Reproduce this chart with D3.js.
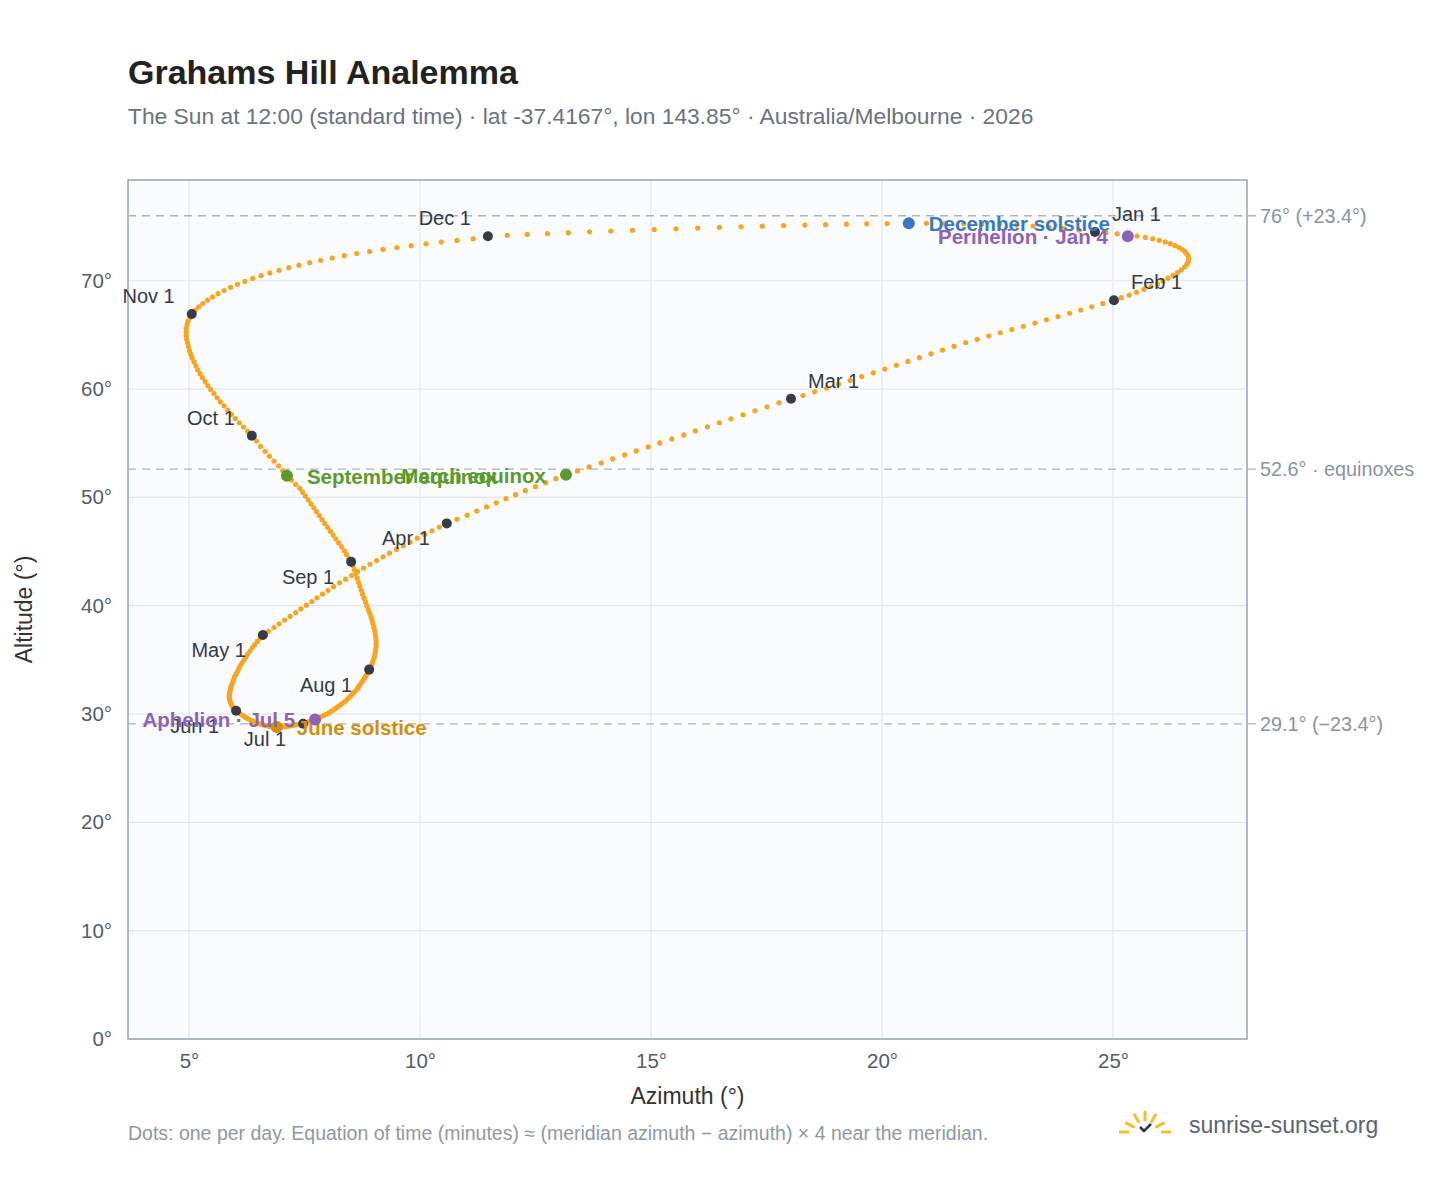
<!DOCTYPE html>
<html><head><meta charset="utf-8">
<script src="https://cdn.jsdelivr.net/npm/d3@7"></script>
<style>body{margin:0;background:#fff;font-family:"Liberation Sans",Arial,sans-serif}</style>
</head><body><div id="vis"></div>
<script>
// daily sun positions at 12:00 (Jan..Dec)
const azimuth = [
  // Jan
  24.61,24.85,25.09,25.32,25.52,25.70,25.86,26.00,26.13,26.24,26.34,26.43,26.50,26.56,26.60,26.63,26.64,26.63,26.60,26.55,26.48,26.40,26.30,26.19,26.08,25.96,25.82,25.67,25.51,25.35,25.18,
  // Feb
  25.02,24.78,24.54,24.30,24.06,23.81,23.56,23.31,23.06,22.81,22.56,22.31,22.06,21.81,21.56,21.31,21.06,20.81,20.56,20.31,20.06,19.81,19.56,19.31,19.06,18.80,18.54,18.29,
  // Mar
  18.03,17.77,17.51,17.25,16.99,16.73,16.48,16.22,15.96,15.71,15.45,15.19,14.94,14.68,14.43,14.17,13.92,13.66,13.41,13.16,12.94,12.72,12.50,12.28,12.07,11.86,11.65,11.44,11.23,11.02,10.80,
  // Apr
  10.58,10.42,10.26,10.10,9.94,9.79,9.64,9.49,9.34,9.20,9.06,8.92,8.78,8.65,8.52,8.39,8.26,8.13,8.01,7.89,7.77,7.66,7.54,7.42,7.31,7.19,7.07,6.95,6.84,6.72,
  // May
  6.60,6.54,6.48,6.42,6.37,6.32,6.27,6.23,6.19,6.15,6.11,6.08,6.05,6.02,5.99,5.97,5.95,5.93,5.91,5.90,5.89,5.88,5.87,5.87,5.88,5.89,5.90,5.92,5.94,5.96,5.99,
  // Jun
  6.02,6.06,6.10,6.14,6.18,6.22,6.26,6.30,6.34,6.38,6.42,6.46,6.51,6.56,6.61,6.66,6.71,6.76,6.81,6.86,6.90,6.95,7.00,7.06,7.12,7.18,7.24,7.30,7.36,7.42,
  // Jul
  7.47,7.54,7.60,7.67,7.73,7.79,7.85,7.91,7.97,8.03,8.08,8.13,8.18,8.23,8.28,8.33,8.38,8.42,8.46,8.50,8.54,8.58,8.62,8.65,8.68,8.71,8.74,8.77,8.80,8.83,8.86,
  // Aug
  8.90,8.93,8.96,8.98,9.00,9.02,9.03,9.04,9.05,9.05,9.05,9.04,9.03,9.02,9.00,8.98,8.96,8.94,8.91,8.88,8.85,8.82,8.79,8.76,8.73,8.70,8.67,8.64,8.61,8.58,8.55,
  // Sep
  8.51,8.46,8.41,8.36,8.30,8.24,8.18,8.12,8.06,8.00,7.94,7.88,7.82,7.76,7.70,7.64,7.58,7.52,7.46,7.40,7.31,7.22,7.12,7.03,6.94,6.84,6.74,6.65,6.55,6.46,
  // Oct
  6.36,6.27,6.18,6.09,6.00,5.92,5.84,5.76,5.68,5.61,5.54,5.47,5.41,5.35,5.29,5.24,5.19,5.15,5.11,5.07,5.04,5.01,4.99,4.97,4.95,4.94,4.94,4.94,4.96,4.98,5.02,
  // Nov
  5.06,5.13,5.21,5.30,5.40,5.51,5.63,5.76,5.90,6.05,6.21,6.38,6.56,6.75,6.95,7.16,7.38,7.61,7.85,8.10,8.36,8.63,8.91,9.20,9.50,9.81,10.13,10.46,10.80,11.15,
  // Dec
  11.47,11.89,12.32,12.76,13.21,13.67,14.13,14.60,15.07,15.54,16.01,16.48,16.95,17.41,17.87,18.33,18.78,19.23,19.67,20.11,20.58,20.96,21.37,21.77,22.16,22.54,22.91,23.27,23.61,23.94,24.26
];
const altitude = [
  // Jan
  74.50,74.42,74.33,74.10,74.12,74.00,73.87,73.73,73.58,73.42,73.25,73.07,72.88,72.68,72.47,72.25,72.02,71.78,71.53,71.27,71.00,70.75,70.50,70.24,69.98,69.72,69.46,69.20,68.94,68.68,68.44,
  // Feb
  68.20,67.90,67.60,67.30,67.00,66.70,66.40,66.10,65.80,65.50,65.20,64.90,64.60,64.30,63.95,63.60,63.25,62.90,62.55,62.20,61.85,61.50,61.15,60.80,60.45,60.10,59.75,59.40,
  // Mar
  59.10,58.73,58.36,57.99,57.62,57.25,56.88,56.51,56.14,55.77,55.40,55.03,54.66,54.29,53.92,53.55,53.18,52.81,52.44,52.10,51.73,51.36,50.99,50.62,50.25,49.88,49.50,49.12,48.74,48.36,47.98,
  // Apr
  47.60,47.26,46.91,46.57,46.23,45.88,45.54,45.20,44.85,44.51,44.17,43.82,43.48,43.14,42.79,42.45,42.11,41.76,41.42,41.08,40.73,40.39,40.05,39.70,39.36,39.02,38.67,38.33,37.99,37.64,
  // May
  37.30,37.00,36.70,36.40,36.11,35.82,35.54,35.26,34.99,34.72,34.46,34.20,33.95,33.70,33.46,33.22,32.99,32.77,32.55,32.34,32.13,31.93,31.73,31.54,31.36,31.18,31.01,30.85,30.69,30.54,30.40,
  // Jun
  30.30,30.17,30.05,29.93,29.82,29.71,29.61,29.51,29.42,29.34,29.26,29.19,29.12,29.06,29.00,28.95,28.90,28.86,28.83,28.81,28.80,28.80,28.81,28.83,28.86,28.90,28.94,28.99,29.04,29.08,
  // Jul
  29.10,29.20,29.30,29.40,29.50,29.61,29.73,29.85,29.98,30.11,30.25,30.39,30.54,30.69,30.85,31.01,31.17,31.34,31.51,31.68,31.85,32.03,32.21,32.39,32.57,32.76,32.95,33.14,33.33,33.52,33.75,
  // Aug
  34.10,34.35,34.60,34.86,35.12,35.39,35.66,35.94,36.22,36.51,36.80,37.10,37.40,37.71,38.02,38.34,38.66,38.99,39.32,39.66,40.00,40.35,40.70,41.06,41.42,41.79,42.16,42.54,42.92,43.31,43.70,
  // Sep
  44.05,44.36,44.72,45.08,45.44,45.80,46.16,46.52,46.88,47.24,47.60,47.96,48.32,48.68,49.04,49.40,49.76,50.12,50.48,50.84,51.20,51.60,52.00,52.45,52.90,53.35,53.80,54.25,54.70,55.20,
  // Oct
  55.70,56.10,56.50,56.89,57.28,57.67,58.06,58.44,58.82,59.20,59.58,59.95,60.32,60.69,61.06,61.42,61.78,62.14,62.50,62.85,63.20,63.55,63.90,64.25,64.59,64.93,65.27,65.61,65.94,66.27,66.60,
  // Nov
  66.93,67.26,67.58,67.90,68.21,68.51,68.81,69.10,69.39,69.67,69.94,70.21,70.47,70.72,70.97,71.21,71.44,71.67,71.89,72.10,72.31,72.51,72.70,72.89,73.07,73.24,73.41,73.57,73.72,73.87,
  // Dec
  74.10,74.19,74.28,74.36,74.44,74.52,74.59,74.66,74.73,74.80,74.86,74.92,74.98,75.04,75.09,75.14,75.18,75.22,75.25,75.28,75.30,75.30,75.29,75.27,75.24,75.20,75.14,75.05,74.95,74.84,74.68
];

const monthLabels = ["Jan 1","Feb 1","Mar 1","Apr 1","May 1","Jun 1","Jul 1","Aug 1","Sep 1","Oct 1","Nov 1","Dec 1"];
const monthStartDay = [0,31,59,90,120,151,181,212,243,273,304,334];
const monthLabelSide = ["ra","ra","ra","lb","lb","lb","lb","lb","lb","la","la","la"];

const eventNames = ["December solstice","Perihelion · Jan 4","March equinox","September equinox","June solstice","Aphelion · Jul 5"];
const eventDay = [354,3,78,265,171,185];
const eventColors = ["#3b78c3","#8e62b4","#5b9a2f","#5b9a2f","#d38f0c","#8e62b4"];
const eventSide = ["r","l","l","r","r","l"];

const refLines = [76, 52.6, 29.1];
const refLabels = ["76° (+23.4°)", "52.6° · equinoxes", "29.1° (−23.4°)"];

const xTicks = [5,10,15,20,25];
const yTicks = [0,10,20,30,40,50,60,70];

const days = azimuth.map((az, i) => ({ az, alt: altitude[i] }));

const W = 1448, H = 1188;
const plot = { left: 128, top: 180, right: 1247, bottom: 1039 };

const svg = d3.select("#vis").append("svg").attr("width", W).attr("height", H);

const x = d3.scaleLinear().domain([3.68, 27.9]).range([plot.left, plot.right]);
const y = d3.scaleLinear().domain([0, 79.3]).range([plot.bottom, plot.top]);

svg.append("text").attr("x", 128).attr("y", 84).attr("font-size", 34).attr("font-weight", "bold")
    .attr("fill", "#222").text("Grahams Hill Analemma");
svg.append("text").attr("x", 128).attr("y", 124).attr("font-size", 22.8).attr("fill", "#6b7280")
    .text("The Sun at 12:00 (standard time) · lat -37.4167°, lon 143.85° · Australia/Melbourne · 2026");

svg.append("rect").attr("x", plot.left).attr("y", plot.top)
    .attr("width", plot.right - plot.left).attr("height", plot.bottom - plot.top)
    .attr("fill", "#f9fbfd");

const grid = svg.append("g");
xTicks.forEach(t => grid.append("line").attr("x1", x(t)).attr("x2", x(t))
    .attr("y1", plot.top).attr("y2", plot.bottom).attr("stroke", "#e3e8ee").attr("stroke-width", 1.2));
yTicks.forEach(t => grid.append("line").attr("y1", y(t)).attr("y2", y(t))
    .attr("x1", plot.left).attr("x2", plot.right).attr("stroke", "#e3e8ee").attr("stroke-width", 1.2));

refLines.forEach((v, i) => {
    svg.append("line").attr("x1", plot.left).attr("x2", plot.right + 10)
        .attr("y1", y(v)).attr("y2", y(v)).attr("stroke", "#aab4c0")
        .attr("stroke-width", 1.3).attr("stroke-dasharray", "8,6");
    svg.append("text").attr("x", 1260).attr("y", y(v) + 7).attr("font-size", 19.8)
        .attr("fill", "#8a939e").text(refLabels[i]);
});

svg.append("rect").attr("x", plot.left).attr("y", plot.top)
    .attr("width", plot.right - plot.left).attr("height", plot.bottom - plot.top)
    .attr("fill", "none").attr("stroke", "#98a3b0").attr("stroke-width", 1.5);

const xAxis = svg.append("g").attr("transform", `translate(0,${plot.bottom})`)
    .call(d3.axisBottom(x).tickValues(xTicks).tickSize(0).tickPadding(14).tickFormat(d => d + "°"));
const yAxis = svg.append("g").attr("transform", `translate(${plot.left},0)`)
    .call(d3.axisLeft(y).tickValues(yTicks).tickSize(0).tickPadding(16).tickFormat(d => d + "°"));
[xAxis, yAxis].forEach(a => {
    a.select(".domain").remove();
    a.selectAll("text").attr("font-size", 20.5).attr("fill", "#555d66").attr("font-family", "Liberation Sans, Arial, sans-serif");
});

svg.append("text").attr("x", (plot.left + plot.right) / 2).attr("y", 1104).attr("text-anchor", "middle")
    .attr("font-size", 23).attr("fill", "#333").text("Azimuth (°)");
svg.append("text").attr("transform", `translate(32,${(plot.top + plot.bottom) / 2}) rotate(-90)`)
    .attr("text-anchor", "middle").attr("font-size", 23).attr("fill", "#333").text("Altitude (°)");

svg.append("g").selectAll("circle").data(days).join("circle")
    .attr("cx", d => x(d.az)).attr("cy", d => y(d.alt)).attr("r", 2.6).attr("fill", "#f5a623");

monthStartDay.forEach((d, i) => {
    const p = days[d];
    svg.append("circle").attr("cx", x(p.az)).attr("cy", y(p.alt)).attr("r", 5).attr("fill", "#363c45");
    const s = monthLabelSide[i];
    const dx = s[0] === "r" ? 17 : -17;
    const dy = s[1] === "a" ? -11 : 22;
    svg.append("text").attr("x", x(p.az) + dx).attr("y", y(p.alt) + dy)
        .attr("text-anchor", s[0] === "r" ? "start" : "end")
        .attr("font-size", 20).attr("fill", "#333a44").text(monthLabels[i]);
});

eventDay.forEach((d, i) => {
    const p = days[d];
    svg.append("circle").attr("cx", x(p.az)).attr("cy", y(p.alt)).attr("r", 6).attr("fill", eventColors[i]);
    const right = eventSide[i] === "r";
    svg.append("text").attr("x", x(p.az) + (right ? 20 : -20)).attr("y", y(p.alt) + 8)
        .attr("text-anchor", right ? "start" : "end").attr("font-size", 20.5).attr("font-weight", "bold")
        .attr("fill", eventColors[i]).text(eventNames[i]);
});

svg.append("text").attr("x", 128).attr("y", 1140).attr("font-size", 19.5).attr("fill", "#9098a3")
    .text("Dots: one per day. Equation of time (minutes) ≈ (meridian azimuth − azimuth) × 4 near the meridian.");

// logo
const logo = svg.append("g").attr("transform", "translate(1145,1133)");
[-62, -30, 0, 30, 62].forEach(a => {
    const r = a * Math.PI / 180;
    logo.append("line").attr("x1", Math.sin(r) * 13).attr("y1", -Math.cos(r) * 13)
        .attr("x2", Math.sin(r) * 21).attr("y2", -Math.cos(r) * 21)
        .attr("stroke", "#f5c026").attr("stroke-width", 3).attr("stroke-linecap", "round");
});
logo.append("line").attr("x1", -26).attr("x2", -16).attr("y1", -1).attr("y2", -1).attr("stroke", "#f5c026").attr("stroke-width", 3);
logo.append("line").attr("x1", 16).attr("x2", 26).attr("y1", -1).attr("y2", -1).attr("stroke", "#f5c026").attr("stroke-width", 3);
logo.append("path").attr("d", "M-5,-6 L-1,-2 L6,-9").attr("fill", "none").attr("stroke", "#263345").attr("stroke-width", 2.5);
svg.append("text").attr("x", 1189).attr("y", 1133).attr("font-size", 23).attr("fill", "#5b6470").text("sunrise-sunset.org");
</script></body></html>
